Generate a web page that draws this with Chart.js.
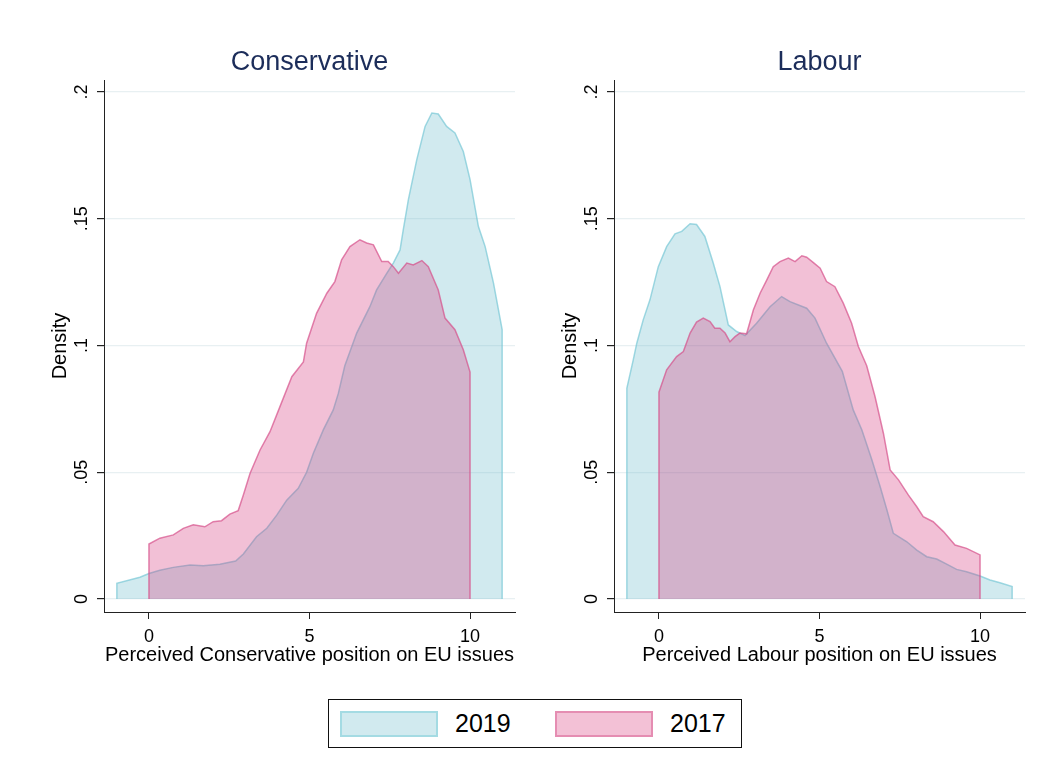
<!DOCTYPE html>
<html>
<head>
<meta charset="utf-8">
<script src="https://cdn.jsdelivr.net/npm/chart.js@4"></script>
<style>
  body { margin: 0; background: #fff; width: 1052px; height: 764px; position: relative; overflow: hidden; font-family: 'Liberation Sans', Arial, sans-serif; }
  .panel { position: absolute; top: 0; width: 526px; height: 690px; }
  #legend { position: absolute; left: 328px; top: 699px; width: 412px; height: 47px; border: 1.5px solid #111; }
  .sw { position: absolute; top: 11px; width: 94px; height: 22px; border: 2px solid; }
  .lt { position: absolute; top: 9px; font-size: 25px; color: #000; }
</style>
</head>
<body>
<div class="panel" style="left:0"><canvas id="conChart"></canvas></div>
<div class="panel" style="left:510px"><canvas id="labChart"></canvas></div>
<div id="legend">
  <div class="sw" style="left:11px;border-color:#a4dbe3;background:#d1eaef"></div>
  <div class="lt" style="left:126px">2019</div>
  <div class="sw" style="left:226px;border-color:#e58db2;background:#f3c1d6"></div>
  <div class="lt" style="left:341px">2017</div>
</div>
<script>
// density estimates (x = perceived position, y = density)
const conX2019 = [-1, -1, -0.28, 0, 0.34, 0.76, 1.28, 1.69, 2.21, 2.7, 2.94, 3.35, 3.67, 3.98, 4.29, 4.65, 4.91, 5.12, 5.43, 5.74, 5.9, 6.1, 6.47, 6.88, 7.09, 7.41, 7.61, 7.82, 7.92, 8.08, 8.34, 8.6, 8.81, 9.01, 9.27, 9.53, 9.79, 10.0, 10.26, 10.47, 10.73, 11, 11];
const conY2019 = [0, 0.0062, 0.0086, 0.0101, 0.0114, 0.0125, 0.0134, 0.0131, 0.0137, 0.015, 0.0178, 0.0246, 0.0279, 0.0331, 0.039, 0.0437, 0.05, 0.0575, 0.0667, 0.0746, 0.0812, 0.092, 0.1049, 0.1153, 0.1219, 0.1285, 0.1325, 0.1377, 0.1456, 0.1575, 0.1732, 0.1864, 0.1917, 0.1913, 0.1864, 0.1838, 0.1765, 0.1654, 0.1469, 0.139, 0.1246, 0.1062, 0];

const conX2017 = [0, 0, 0.34, 0.76, 1.07, 1.38, 1.74, 2.0, 2.26, 2.52, 2.78, 2.94, 3.15, 3.46, 3.77, 4.08, 4.45, 4.81, 4.91, 5.22, 5.54, 5.79, 6.0, 6.26, 6.57, 6.78, 6.99, 7.25, 7.45, 7.61, 7.77, 8.03, 8.23, 8.5, 8.7, 9.01, 9.22, 9.53, 9.79, 10, 10];
const conY2017 = [0, 0.0217, 0.024, 0.0253, 0.0279, 0.0293, 0.0285, 0.0305, 0.0309, 0.0335, 0.0349, 0.041, 0.0496, 0.0588, 0.066, 0.0759, 0.0877, 0.0935, 0.1009, 0.1127, 0.1206, 0.1252, 0.1338, 0.139, 0.1417, 0.1404, 0.1397, 0.1331, 0.1331, 0.1311, 0.1285, 0.1325, 0.1318, 0.1335, 0.1311, 0.1219, 0.1108, 0.1062, 0.0983, 0.0895, 0];

const labX2019 = [-1, -1, -0.8, -0.69, -0.49, -0.28, -0.02, 0.24, 0.5, 0.71, 0.97, 1.17, 1.43, 1.69, 1.9, 2.16, 2.42, 2.68, 3.04, 3.46, 3.82, 4.08, 4.6, 4.86, 5.22, 5.71, 6.05, 6.32, 6.63, 6.89, 7.1, 7.3, 7.72, 8.03, 8.34, 8.65, 8.96, 9.27, 9.58, 10.0, 10.31, 10.62, 11, 11];
const labY2019 = [0, 0.0831, 0.0943, 0.1009, 0.1101, 0.118, 0.1311, 0.139, 0.144, 0.145, 0.148, 0.1477, 0.143, 0.1325, 0.1232, 0.1081, 0.1055, 0.1039, 0.1088, 0.1153, 0.1193, 0.1173, 0.1147, 0.1108, 0.1009, 0.0898, 0.0746, 0.0667, 0.0549, 0.0443, 0.0351, 0.0259, 0.0226, 0.0193, 0.0167, 0.0158, 0.0138, 0.0117, 0.0108, 0.0091, 0.0075, 0.0064, 0.0049, 0];

const labX2017 = [0, 0, 0.24, 0.55, 0.76, 0.97, 1.17, 1.38, 1.59, 1.74, 1.9, 2.06, 2.21, 2.37, 2.52, 2.73, 2.94, 3.15, 3.36, 3.56, 3.77, 4.03, 4.24, 4.45, 4.6, 4.81, 5.02, 5.22, 5.48, 5.74, 6.0, 6.21, 6.47, 6.73, 6.99, 7.2, 7.46, 7.77, 8.03, 8.23, 8.54, 8.86, 9.22, 9.58, 10, 10];
const labY2017 = [0, 0.0816, 0.0904, 0.0956, 0.0976, 0.1049, 0.1092, 0.1108, 0.1094, 0.1068, 0.1068, 0.1049, 0.1015, 0.1035, 0.1049, 0.1046, 0.114, 0.1206, 0.1259, 0.1311, 0.1331, 0.1345, 0.1331, 0.1354, 0.1348, 0.1327, 0.1305, 0.1252, 0.1232, 0.1167, 0.1088, 0.0996, 0.092, 0.0798, 0.0654, 0.0509, 0.047, 0.041, 0.0364, 0.0325, 0.0305, 0.0266, 0.0213, 0.02, 0.0174, 0];

const seriesNames = ['2019', '2017'];
const xTicks = [0, 5, 10];
const yTicks = [0, 0.05, 0.1, 0.15, 0.2];
const yTickLabels = ['0', '.05', '.1', '.15', '.2'];

const font = "'Liberation Sans', Arial, sans-serif";

function pts(xs, ys) {
  return xs.map((x, i) => ({ x: x, y: ys[i] }));
}

// center the panel title over the plot area rather than the whole canvas
const centerTitle = {
  id: 'centerTitle',
  afterLayout(chart) {
    const t = chart.titleBlock;
    t.left = chart.chartArea.left;
    t.right = chart.chartArea.right;
  }
};

function makeChart(id, title, xTitle, x19, y19, x17, y17) {
  const ctx = document.getElementById(id).getContext('2d');
  return new Chart(ctx, {
    type: 'line',
    data: {
      datasets: [
        {
          label: seriesNames[0],
          data: pts(x19, y19),
          borderColor: 'rgba(120, 200, 214, 0.7)',
          backgroundColor: 'rgba(102, 185, 202, 0.3)',
          borderWidth: 1.5,
          fill: 'origin',
          order: 2
        },
        {
          label: seriesNames[1],
          data: pts(x17, y17),
          borderColor: 'rgba(214, 80, 138, 0.7)',
          backgroundColor: 'rgba(212, 48, 118, 0.3)',
          borderWidth: 1.5,
          fill: 'origin',
          order: 1
        }
      ]
    },
    plugins: [centerTitle],
    options: {
      responsive: false,
      animation: false,
      layout: { padding: { left: 0, right: 11, top: 0, bottom: 0 } },
      elements: { point: { radius: 0 }, line: { tension: 0 } },
      plugins: {
        legend: { display: false },
        tooltip: { enabled: false },
        title: {
          display: true,
          text: title,
          color: '#1c2d5a',
          font: { family: font, size: 27, weight: 'normal' },
          padding: { top: 46, bottom: 1.6 }
        }
      },
      scales: {
        x: {
          type: 'linear',
          min: -1.4,
          max: 11.4,
          afterBuildTicks: (s) => { s.ticks = xTicks.map(v => ({ value: v })); },
          afterFit: (s) => { s.height = 78; },
          ticks: { color: '#000', font: { family: font, size: 18 }, padding: 7, maxRotation: 0 },
          grid: { drawOnChartArea: false, tickLength: 7, tickColor: '#222' },
          border: { color: '#222', width: 1 },
          title: { display: true, text: xTitle, color: '#000', font: { family: font, size: 20 }, padding: { top: 0, bottom: 23 } }
        },
        y: {
          type: 'linear',
          min: -0.0051,
          max: 0.2047,
          afterBuildTicks: (s) => { s.ticks = yTicks.map(v => ({ value: v })); },
          afterFit: (s) => { s.width = 104; },
          ticks: {
            color: '#000',
            font: { family: font, size: 18 },
            minRotation: 90,
            maxRotation: 90,
            crossAlign: 'center',
            padding: 2,
            callback: (v) => yTickLabels[Math.round(v / 0.05)]
          },
          grid: { color: '#e8f0f2', lineWidth: 1.2, tickLength: 7, tickColor: '#222' },
          border: { color: '#222', width: 1 },
          title: { display: true, text: 'Density', color: '#000', font: { family: font, size: 20 }, padding: { top: 48, bottom: 0 } }
        }
      }
    }
  });
}

const c1 = document.getElementById('conChart');
const c2 = document.getElementById('labChart');
[c1, c2].forEach(c => { c.width = 526; c.height = 690; c.style.width = '526px'; c.style.height = '690px'; });

makeChart('conChart', 'Conservative', 'Perceived Conservative position on EU issues', conX2019, conY2019, conX2017, conY2017);
makeChart('labChart', 'Labour', 'Perceived Labour position on EU issues', labX2019, labY2019, labX2017, labY2017);
</script>
</body>
</html>
